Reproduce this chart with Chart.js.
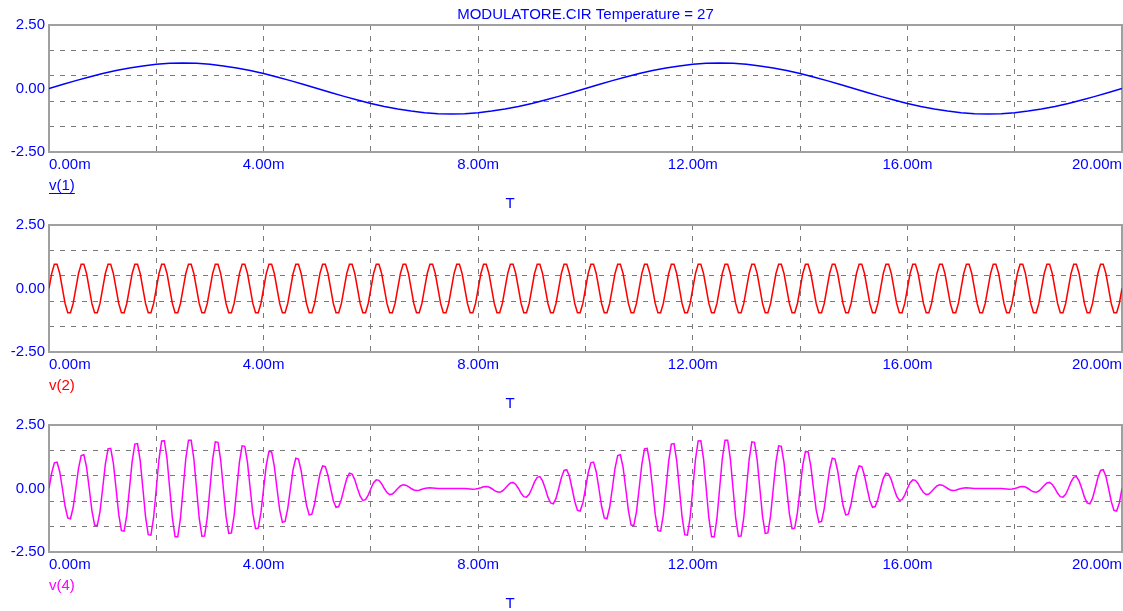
<!DOCTYPE html>
<html>
<head>
<meta charset="utf-8">
<title>MODULATORE.CIR</title>
<script src="https://cdn.jsdelivr.net/npm/chart.js@4.4.1/dist/chart.umd.min.js"></script>
<style>
    html, body { margin: 0; padding: 0; background: #ffffff; overflow: hidden; }
    #panels { position: relative; width: 1123px; height: 611px; }
    #panels canvas { position: absolute; left: 0; display: block; }
</style>
</head>
<body>
<div id="panels">
    <canvas id="chartV1" width="1123" height="211" style="top:0px"></canvas>
    <canvas id="chartV2" width="1123" height="211" style="top:200px"></canvas>
    <canvas id="chartV4" width="1123" height="211" style="top:400px"></canvas>
</div>
<script>
// Axis ticks (time in ms, voltage in V)
const xGridMs = [0, 2, 4, 6, 8, 10, 12, 14, 16, 18, 20];
const xLabelMs = [0, 4, 8, 12, 16, 20];
const yGridValues = [-2.5, -1.5, -0.5, 0, 0.5, 1.5, 2.5];
const yLabelValues = [-2.5, 0, 2.5];

// v(1): modulating signal, sampled every 0.25 ms
const timeCoarseMs = [
    0, 0.25, 0.5, 0.75, 1, 1.25, 1.5, 1.75,
    2, 2.25, 2.5, 2.75, 3, 3.25, 3.5, 3.75,
    4, 4.25, 4.5, 4.75, 5, 5.25, 5.5, 5.75,
    6, 6.25, 6.5, 6.75, 7, 7.25, 7.5, 7.75,
    8, 8.25, 8.5, 8.75, 9, 9.25, 9.5, 9.75,
    10, 10.25, 10.5, 10.75, 11, 11.25, 11.5, 11.75,
    12, 12.25, 12.5, 12.75, 13, 13.25, 13.5, 13.75,
    14, 14.25, 14.5, 14.75, 15, 15.25, 15.5, 15.75,
    16, 16.25, 16.5, 16.75, 17, 17.25, 17.5, 17.75,
    18, 18.25, 18.5, 18.75, 19, 19.25, 19.5, 19.75,
    20
];
const v1Values = [
    0, 0.16, 0.31, 0.45, 0.59, 0.71, 0.81, 0.89,
    0.95, 0.99, 1, 0.99, 0.95, 0.89, 0.81, 0.71,
    0.59, 0.45, 0.31, 0.16, 0, -0.16, -0.31, -0.45,
    -0.59, -0.71, -0.81, -0.89, -0.95, -0.99, -1, -0.99,
    -0.95, -0.89, -0.81, -0.71, -0.59, -0.45, -0.31, -0.16,
    0, 0.16, 0.31, 0.45, 0.59, 0.71, 0.81, 0.89,
    0.95, 0.99, 1, 0.99, 0.95, 0.89, 0.81, 0.71,
    0.59, 0.45, 0.31, 0.16, 0, -0.16, -0.31, -0.45,
    -0.59, -0.71, -0.81, -0.89, -0.95, -0.99, -1, -0.99,
    -0.95, -0.89, -0.81, -0.71, -0.59, -0.45, -0.31, -0.16,
    0
];

// v(2) and v(4): carrier and modulated output, sampled every 0.05 ms
const timeFineMs = [
    0, 0.05, 0.1, 0.15, 0.2, 0.25, 0.3, 0.35, 0.4, 0.45, 0.5, 0.55, 0.6, 0.65, 0.7, 0.75, 0.8, 0.85, 0.9, 0.95,
    1, 1.05, 1.1, 1.15, 1.2, 1.25, 1.3, 1.35, 1.4, 1.45, 1.5, 1.55, 1.6, 1.65, 1.7, 1.75, 1.8, 1.85, 1.9, 1.95,
    2, 2.05, 2.1, 2.15, 2.2, 2.25, 2.3, 2.35, 2.4, 2.45, 2.5, 2.55, 2.6, 2.65, 2.7, 2.75, 2.8, 2.85, 2.9, 2.95,
    3, 3.05, 3.1, 3.15, 3.2, 3.25, 3.3, 3.35, 3.4, 3.45, 3.5, 3.55, 3.6, 3.65, 3.7, 3.75, 3.8, 3.85, 3.9, 3.95,
    4, 4.05, 4.1, 4.15, 4.2, 4.25, 4.3, 4.35, 4.4, 4.45, 4.5, 4.55, 4.6, 4.65, 4.7, 4.75, 4.8, 4.85, 4.9, 4.95,
    5, 5.05, 5.1, 5.15, 5.2, 5.25, 5.3, 5.35, 5.4, 5.45, 5.5, 5.55, 5.6, 5.65, 5.7, 5.75, 5.8, 5.85, 5.9, 5.95,
    6, 6.05, 6.1, 6.15, 6.2, 6.25, 6.3, 6.35, 6.4, 6.45, 6.5, 6.55, 6.6, 6.65, 6.7, 6.75, 6.8, 6.85, 6.9, 6.95,
    7, 7.05, 7.1, 7.15, 7.2, 7.25, 7.3, 7.35, 7.4, 7.45, 7.5, 7.55, 7.6, 7.65, 7.7, 7.75, 7.8, 7.85, 7.9, 7.95,
    8, 8.05, 8.1, 8.15, 8.2, 8.25, 8.3, 8.35, 8.4, 8.45, 8.5, 8.55, 8.6, 8.65, 8.7, 8.75, 8.8, 8.85, 8.9, 8.95,
    9, 9.05, 9.1, 9.15, 9.2, 9.25, 9.3, 9.35, 9.4, 9.45, 9.5, 9.55, 9.6, 9.65, 9.7, 9.75, 9.8, 9.85, 9.9, 9.95,
    10, 10.05, 10.1, 10.15, 10.2, 10.25, 10.3, 10.35, 10.4, 10.45, 10.5, 10.55, 10.6, 10.65, 10.7, 10.75, 10.8, 10.85, 10.9, 10.95,
    11, 11.05, 11.1, 11.15, 11.2, 11.25, 11.3, 11.35, 11.4, 11.45, 11.5, 11.55, 11.6, 11.65, 11.7, 11.75, 11.8, 11.85, 11.9, 11.95,
    12, 12.05, 12.1, 12.15, 12.2, 12.25, 12.3, 12.35, 12.4, 12.45, 12.5, 12.55, 12.6, 12.65, 12.7, 12.75, 12.8, 12.85, 12.9, 12.95,
    13, 13.05, 13.1, 13.15, 13.2, 13.25, 13.3, 13.35, 13.4, 13.45, 13.5, 13.55, 13.6, 13.65, 13.7, 13.75, 13.8, 13.85, 13.9, 13.95,
    14, 14.05, 14.1, 14.15, 14.2, 14.25, 14.3, 14.35, 14.4, 14.45, 14.5, 14.55, 14.6, 14.65, 14.7, 14.75, 14.8, 14.85, 14.9, 14.95,
    15, 15.05, 15.1, 15.15, 15.2, 15.25, 15.3, 15.35, 15.4, 15.45, 15.5, 15.55, 15.6, 15.65, 15.7, 15.75, 15.8, 15.85, 15.9, 15.95,
    16, 16.05, 16.1, 16.15, 16.2, 16.25, 16.3, 16.35, 16.4, 16.45, 16.5, 16.55, 16.6, 16.65, 16.7, 16.75, 16.8, 16.85, 16.9, 16.95,
    17, 17.05, 17.1, 17.15, 17.2, 17.25, 17.3, 17.35, 17.4, 17.45, 17.5, 17.55, 17.6, 17.65, 17.7, 17.75, 17.8, 17.85, 17.9, 17.95,
    18, 18.05, 18.1, 18.15, 18.2, 18.25, 18.3, 18.35, 18.4, 18.45, 18.5, 18.55, 18.6, 18.65, 18.7, 18.75, 18.8, 18.85, 18.9, 18.95,
    19, 19.05, 19.1, 19.15, 19.2, 19.25, 19.3, 19.35, 19.4, 19.45, 19.5, 19.55, 19.6, 19.65, 19.7, 19.75, 19.8, 19.85, 19.9, 19.95,
    20
];
const v2Values = [
    0, 0.59, 0.95, 0.95, 0.59, 0, -0.59, -0.95, -0.95, -0.59, 0, 0.59, 0.95, 0.95, 0.59, 0, -0.59, -0.95, -0.95, -0.59,
    0, 0.59, 0.95, 0.95, 0.59, 0, -0.59, -0.95, -0.95, -0.59, 0, 0.59, 0.95, 0.95, 0.59, 0, -0.59, -0.95, -0.95, -0.59,
    0, 0.59, 0.95, 0.95, 0.59, 0, -0.59, -0.95, -0.95, -0.59, 0, 0.59, 0.95, 0.95, 0.59, 0, -0.59, -0.95, -0.95, -0.59,
    0, 0.59, 0.95, 0.95, 0.59, 0, -0.59, -0.95, -0.95, -0.59, 0, 0.59, 0.95, 0.95, 0.59, 0, -0.59, -0.95, -0.95, -0.59,
    0, 0.59, 0.95, 0.95, 0.59, 0, -0.59, -0.95, -0.95, -0.59, 0, 0.59, 0.95, 0.95, 0.59, 0, -0.59, -0.95, -0.95, -0.59,
    0, 0.59, 0.95, 0.95, 0.59, 0, -0.59, -0.95, -0.95, -0.59, 0, 0.59, 0.95, 0.95, 0.59, 0, -0.59, -0.95, -0.95, -0.59,
    0, 0.59, 0.95, 0.95, 0.59, 0, -0.59, -0.95, -0.95, -0.59, 0, 0.59, 0.95, 0.95, 0.59, 0, -0.59, -0.95, -0.95, -0.59,
    0, 0.59, 0.95, 0.95, 0.59, 0, -0.59, -0.95, -0.95, -0.59, 0, 0.59, 0.95, 0.95, 0.59, 0, -0.59, -0.95, -0.95, -0.59,
    0, 0.59, 0.95, 0.95, 0.59, 0, -0.59, -0.95, -0.95, -0.59, 0, 0.59, 0.95, 0.95, 0.59, 0, -0.59, -0.95, -0.95, -0.59,
    0, 0.59, 0.95, 0.95, 0.59, 0, -0.59, -0.95, -0.95, -0.59, 0, 0.59, 0.95, 0.95, 0.59, 0, -0.59, -0.95, -0.95, -0.59,
    0, 0.59, 0.95, 0.95, 0.59, 0, -0.59, -0.95, -0.95, -0.59, 0, 0.59, 0.95, 0.95, 0.59, 0, -0.59, -0.95, -0.95, -0.59,
    0, 0.59, 0.95, 0.95, 0.59, 0, -0.59, -0.95, -0.95, -0.59, 0, 0.59, 0.95, 0.95, 0.59, 0, -0.59, -0.95, -0.95, -0.59,
    0, 0.59, 0.95, 0.95, 0.59, 0, -0.59, -0.95, -0.95, -0.59, 0, 0.59, 0.95, 0.95, 0.59, 0, -0.59, -0.95, -0.95, -0.59,
    0, 0.59, 0.95, 0.95, 0.59, 0, -0.59, -0.95, -0.95, -0.59, 0, 0.59, 0.95, 0.95, 0.59, 0, -0.59, -0.95, -0.95, -0.59,
    0, 0.59, 0.95, 0.95, 0.59, 0, -0.59, -0.95, -0.95, -0.59, 0, 0.59, 0.95, 0.95, 0.59, 0, -0.59, -0.95, -0.95, -0.59,
    0, 0.59, 0.95, 0.95, 0.59, 0, -0.59, -0.95, -0.95, -0.59, 0, 0.59, 0.95, 0.95, 0.59, 0, -0.59, -0.95, -0.95, -0.59,
    0, 0.59, 0.95, 0.95, 0.59, 0, -0.59, -0.95, -0.95, -0.59, 0, 0.59, 0.95, 0.95, 0.59, 0, -0.59, -0.95, -0.95, -0.59,
    0, 0.59, 0.95, 0.95, 0.59, 0, -0.59, -0.95, -0.95, -0.59, 0, 0.59, 0.95, 0.95, 0.59, 0, -0.59, -0.95, -0.95, -0.59,
    0, 0.59, 0.95, 0.95, 0.59, 0, -0.59, -0.95, -0.95, -0.59, 0, 0.59, 0.95, 0.95, 0.59, 0, -0.59, -0.95, -0.95, -0.59,
    0, 0.59, 0.95, 0.95, 0.59, 0, -0.59, -0.95, -0.95, -0.59, 0, 0.59, 0.95, 0.95, 0.59, 0, -0.59, -0.95, -0.95, -0.59,
    0
];
const v4Values = [
    0, 0.61, 1.01, 1.04, 0.66, 0, -0.70, -1.16, -1.19, -0.75, 0, 0.79, 1.30, 1.33, 0.84, 0, -0.87, -1.44, -1.46, -0.92,
    0, 0.95, 1.56, 1.58, 0.99, 0, -1.02, -1.66, -1.68, -1.05, 0, 1.07, 1.75, 1.77, 1.10, 0, -1.12, -1.82, -1.84, -1.14,
    0, 1.15, 1.87, 1.88, 1.17, 0, -1.17, -1.90, -1.90, -1.18, 0, 1.18, 1.90, 1.90, 1.17, 0, -1.17, -1.88, -1.87, -1.15,
    0, 1.14, 1.84, 1.82, 1.12, 0, -1.10, -1.77, -1.75, -1.07, 0, 1.05, 1.68, 1.66, 1.02, 0, -0.99, -1.58, -1.56, -0.95,
    0, 0.92, 1.46, 1.44, 0.87, 0, -0.84, -1.33, -1.30, -0.79, 0, 0.75, 1.19, 1.16, 0.70, 0, -0.66, -1.04, -1.01, -0.61,
    0, 0.57, 0.89, 0.86, 0.51, 0, -0.48, -0.74, -0.71, -0.42, 0, 0.39, 0.60, 0.57, 0.34, 0, -0.30, -0.47, -0.44, -0.26,
    0, 0.23, 0.34, 0.32, 0.19, 0, -0.16, -0.24, -0.22, -0.12, 0, 0.10, 0.15, 0.13, 0.07, 0, -0.06, -0.08, -0.07, -0.03,
    0, 0.02, 0.03, 0.02, 0.01, 0, 0, 0, 0, 0, 0, 0, 0, 0, 0, 0, -0.01, -0.02, -0.03, -0.02,
    0, 0.03, 0.07, 0.08, 0.06, 0, -0.07, -0.13, -0.15, -0.10, 0, 0.12, 0.22, 0.24, 0.16, 0, -0.19, -0.32, -0.34, -0.23,
    0, 0.26, 0.44, 0.47, 0.30, 0, -0.34, -0.57, -0.60, -0.39, 0, 0.42, 0.71, 0.74, 0.48, 0, -0.51, -0.86, -0.89, -0.57,
    0, 0.61, 1.01, 1.04, 0.66, 0, -0.70, -1.16, -1.19, -0.75, 0, 0.79, 1.30, 1.33, 0.84, 0, -0.87, -1.44, -1.46, -0.92,
    0, 0.95, 1.56, 1.58, 0.99, 0, -1.02, -1.66, -1.68, -1.05, 0, 1.07, 1.75, 1.77, 1.10, 0, -1.12, -1.82, -1.84, -1.14,
    0, 1.15, 1.87, 1.88, 1.17, 0, -1.17, -1.90, -1.90, -1.18, 0, 1.18, 1.90, 1.90, 1.17, 0, -1.17, -1.88, -1.87, -1.15,
    0, 1.14, 1.84, 1.82, 1.12, 0, -1.10, -1.77, -1.75, -1.07, 0, 1.05, 1.68, 1.66, 1.02, 0, -0.99, -1.58, -1.56, -0.95,
    0, 0.92, 1.46, 1.44, 0.87, 0, -0.84, -1.33, -1.30, -0.79, 0, 0.75, 1.19, 1.16, 0.70, 0, -0.66, -1.04, -1.01, -0.61,
    0, 0.57, 0.89, 0.86, 0.51, 0, -0.48, -0.74, -0.71, -0.42, 0, 0.39, 0.60, 0.57, 0.34, 0, -0.30, -0.47, -0.44, -0.26,
    0, 0.23, 0.34, 0.32, 0.19, 0, -0.16, -0.24, -0.22, -0.12, 0, 0.10, 0.15, 0.13, 0.07, 0, -0.06, -0.08, -0.07, -0.03,
    0, 0.02, 0.03, 0.02, 0.01, 0, 0, 0, 0, 0, 0, 0, 0, 0, 0, 0, -0.01, -0.02, -0.03, -0.02,
    0, 0.03, 0.07, 0.08, 0.06, 0, -0.07, -0.13, -0.15, -0.10, 0, 0.12, 0.22, 0.24, 0.16, 0, -0.19, -0.32, -0.34, -0.23,
    0, 0.26, 0.44, 0.47, 0.30, 0, -0.34, -0.57, -0.60, -0.39, 0, 0.42, 0.71, 0.74, 0.48, 0, -0.51, -0.86, -0.89, -0.57,
    0
];

const titleText = 'MODULATORE.CIR Temperature = 27';
const axisBlue = '#0000ff';
const gridGray = '#7a7a7a';
const frameGray = '#a0a0a0';
const fontFamily = '"Liberation Sans", Arial, sans-serif';

Chart.defaults.font.family = fontFamily;
Chart.defaults.font.size = 15;
Chart.defaults.color = axisBlue;

// Plot frame, trace name under the axis and the "T" axis name
const panelFrame = {
    id: 'panelFrame',
    beforeDatasetsDraw(chart) {
        const { ctx, chartArea: a } = chart;
        ctx.save();
        ctx.strokeStyle = frameGray;
        ctx.lineWidth = 2;
        ctx.strokeRect(a.left, a.top, a.right - a.left, a.bottom - a.top);
        ctx.restore();
    },
    afterDraw(chart, args, opts) {
        const { ctx, chartArea: a } = chart;
        ctx.save();
        ctx.font = '15px ' + fontFamily;
        ctx.textBaseline = 'middle';
        ctx.textAlign = 'left';
        ctx.fillStyle = opts.color;
        ctx.fillText(opts.trace, a.left, a.bottom + 34);
        if (opts.underline) {
            const w = ctx.measureText(opts.trace).width;
            ctx.fillRect(a.left, a.bottom + 41, w, 1);
        }
        ctx.fillStyle = axisBlue;
        ctx.textAlign = 'center';
        ctx.fillText('T', 510, a.bottom + 52);
        ctx.restore();
    }
};

function makePanel(canvasId, times, values, color, trace, underline, showTitle) {
    const points = times.map((t, i) => ({ x: t, y: values[i] }));

    const config = {
        type: 'line',
        data: {
            datasets: [{
                label: trace,
                data: points,
                borderColor: color,
                borderWidth: 1.5,
                pointRadius: 0,
                tension: 0,
                fill: false
            }]
        },
        options: {
            responsive: false,
            animation: false,
            layout: { padding: { top: showTitle ? 0 : 25, right: 1, bottom: 0, left: 0 } },
            plugins: {
                legend: { display: false },
                tooltip: { enabled: false },
                title: {
                    display: showTitle,
                    text: titleText,
                    color: axisBlue,
                    fullSize: false,
                    font: { size: 15, weight: 'normal', lineHeight: 1.2 },
                    padding: { top: 6, bottom: 1 }
                },
                panelFrame: { trace: trace, color: color, underline: underline }
            },
            scales: {
                x: {
                    type: 'linear',
                    min: 0,
                    max: 20,
                    afterBuildTicks: axis => { axis.ticks = xGridMs.map(v => ({ value: v })); },
                    afterFit: axis => {
                        axis.height = 211 - 152;
                        axis.paddingLeft = 0;
                        axis.paddingRight = 0;
                    },
                    ticks: {
                        autoSkip: false,
                        maxRotation: 0,
                        align: 'inner',
                        padding: 4,
                        color: axisBlue,
                        callback: v => xLabelMs.includes(v) ? v.toFixed(2) + 'm' : ''
                    },
                    grid: {
                        drawTicks: false,
                        color: c => (c.tick && (c.tick.value === 0 || c.tick.value === 20)) ? 'rgba(0,0,0,0)' : gridGray
                    },
                    border: { display: false, dash: [5, 6] }
                },
                y: {
                    min: -2.5,
                    max: 2.5,
                    afterBuildTicks: axis => { axis.ticks = yGridValues.map(v => ({ value: v })); },
                    afterFit: axis => { axis.width = 49; },
                    ticks: {
                        autoSkip: false,
                        padding: 4,
                        color: axisBlue,
                        callback: v => yLabelValues.includes(v) ? v.toFixed(2) : ''
                    },
                    grid: {
                        drawTicks: false,
                        color: c => (c.tick && yLabelValues.includes(c.tick.value)) ? 'rgba(0,0,0,0)' : gridGray
                    },
                    border: { display: false, dash: [5, 6] }
                }
            }
        },
        plugins: [panelFrame]
    };

    return new Chart(document.getElementById(canvasId), config);
}

makePanel('chartV1', timeCoarseMs, v1Values, '#0000ff', 'v(1)', true, true);
makePanel('chartV2', timeFineMs, v2Values, '#ff0000', 'v(2)', false, false);
makePanel('chartV4', timeFineMs, v4Values, '#ff00ff', 'v(4)', false, false);
</script>
</body>
</html>
